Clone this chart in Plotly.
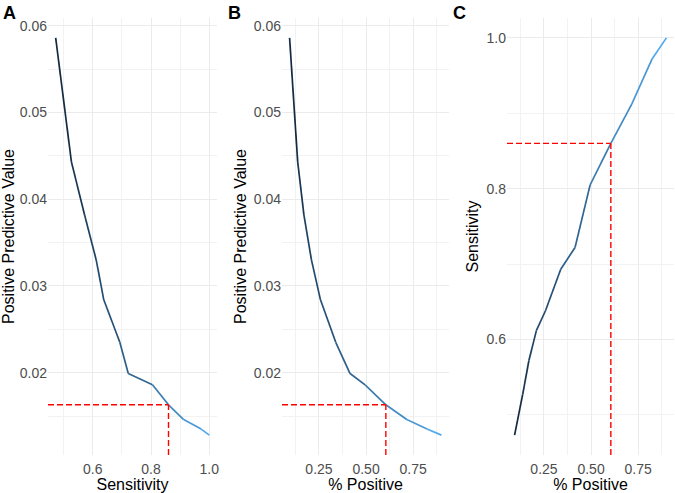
import plotly.graph_objects as go
import numpy as np

# ---- data ----
pct_positive = [0.094, 0.137, 0.170, 0.210, 0.258, 0.339, 0.415, 0.495, 0.605, 0.716, 0.824, 0.900]
sensitivity  = [0.473, 0.527, 0.572, 0.612, 0.638, 0.693, 0.722, 0.805, 0.860, 0.912, 0.972, 1.000]
ppv          = [0.0586, 0.0443, 0.0382, 0.0330, 0.0284, 0.0235, 0.0199, 0.0186, 0.0163, 0.0146, 0.0135, 0.0128]

cut_sens = 0.860
cut_pct = 0.605
cut_ppv = 0.0163

W, H = 675, 493

# ---- colour gradient (ggplot default, interpolated in Lab) ----
def srgb_to_lab(h):
    h = h.lstrip('#')
    rgb = np.array([int(h[i:i+2], 16) / 255 for i in (0, 2, 4)])
    lin = np.where(rgb <= 0.04045, rgb / 12.92, ((rgb + 0.055) / 1.055) ** 2.4)
    M = np.array([[0.4124, 0.3576, 0.1805], [0.2126, 0.7152, 0.0722], [0.0193, 0.1192, 0.9505]])
    xyz = M @ lin / np.array([0.95047, 1.0, 1.08883])
    f = np.where(xyz > 0.008856, np.cbrt(xyz), 7.787 * xyz + 16 / 116)
    return np.array([116 * f[1] - 16, 500 * (f[0] - f[1]), 200 * (f[1] - f[2])])

def lab_to_hex(lab):
    L, a, b = lab
    fy = (L + 16) / 116
    fx = fy + a / 500
    fz = fy - b / 200
    f = np.array([fx, fy, fz])
    xyz = np.where(f ** 3 > 0.008856, f ** 3, (f - 16 / 116) / 7.787) * np.array([0.95047, 1.0, 1.08883])
    Mi = np.array([[3.2406, -1.5372, -0.4986], [-0.9689, 1.8758, 0.0415], [0.0557, -0.2040, 1.0570]])
    lin = Mi @ xyz
    rgb = np.where(lin <= 0.0031308, 12.92 * lin, 1.055 * np.clip(lin, 0, None) ** (1 / 2.4) - 0.055)
    rgb = np.clip(rgb, 0, 1)
    return '#%02x%02x%02x' % tuple(int(round(v * 255)) for v in rgb)

lab_lo = srgb_to_lab('#132B43')
lab_hi = srgb_to_lab('#56B1F7')
smin, smax = min(sensitivity), max(sensitivity)

def col(v):
    t = (v - smin) / (smax - smin)
    return lab_to_hex(lab_lo + t * (lab_hi - lab_lo))

def rng(vals):
    lo, hi = min(vals), max(vals)
    pad = 0.05 * (hi - lo)
    return [lo - pad, hi + pad]

rx1, ry1 = rng(sensitivity), rng(ppv)
rx2, ry2 = rng(pct_positive), rng(ppv)
rx3, ry3 = rng(pct_positive), rng(sensitivity)
ranges = {'x': rx1, 'y': ry1, 'x2': rx2, 'y2': ry2, 'x3': rx3, 'y3': ry3}

fig = go.Figure()

panels = [
    (sensitivity, ppv, 'x', 'y'),
    (pct_positive, ppv, 'x2', 'y2'),
    (pct_positive, sensitivity, 'x3', 'y3'),
]

for xs, ys, xa, ya in panels:
    for i in range(len(xs) - 1):
        fig.add_trace(go.Scatter(
            x=[xs[i], xs[i + 1]], y=[ys[i], ys[i + 1]], mode='lines',
            line=dict(color=col(sensitivity[i]), width=1.7),
            xaxis=xa, yaxis=ya, showlegend=False, hoverinfo='skip'))

# red dashed cutoff lines: horizontal from left edge to point, vertical from bottom to point
red = dict(color='#FF0000', width=1.4, dash='6px,3px')
cuts = [('x', 'y', cut_sens, cut_ppv), ('x2', 'y2', cut_pct, cut_ppv), ('x3', 'y3', cut_pct, cut_sens)]
for xa, ya, cx, cy in cuts:
    fig.add_trace(go.Scatter(x=[ranges[xa][0], cx], y=[cy, cy], mode='lines', line=red,
                             xaxis=xa, yaxis=ya, showlegend=False, hoverinfo='skip'))
    fig.add_trace(go.Scatter(x=[cx, cx], y=[ranges[ya][0], cy], mode='lines', line=red,
                             xaxis=xa, yaxis=ya, showlegend=False, hoverinfo='skip'))

FAM = 'Liberation Sans, Arial, sans-serif'
font_tick = dict(family=FAM, size=14, color='#4D4D4D')
font_title = dict(family=FAM, size=16, color='#000000')
grid_major = '#EBEBEB'

ytop = 1 - 18 / H
ybot = 1 - 455 / H
doms = [[48 / W, 217 / W], [282 / W, 449 / W], [507 / W, 674 / W]]

def xaxis(dom, r, tv, tt, minor, title, anchor):
    return dict(domain=dom, range=r, tickvals=tv, ticktext=tt, showgrid=True, gridcolor=grid_major,
                gridwidth=1.1, zeroline=False, showline=False, ticks='', tickfont=font_tick,
                ticklabelstandoff=4,
                minor=dict(tickvals=minor, showgrid=True, gridcolor='#F2F2F2', gridwidth=0.8, ticks=''),
                title=dict(text=title, font=font_title, standoff=4), anchor=anchor, automargin=False)

def yaxis(r, tv, tt, minor, title, anchor):
    return dict(domain=[ybot, ytop], range=r, tickvals=tv, ticktext=tt, showgrid=True, gridcolor=grid_major,
                gridwidth=1.1, zeroline=False, showline=False, ticks='', tickfont=font_tick,
                minor=dict(tickvals=minor, showgrid=True, gridcolor='#F2F2F2', gridwidth=0.8, ticks=''),
                title=dict(text=title, font=font_title, standoff=3), anchor=anchor, automargin=False)

ppv_ticks = [0.02, 0.03, 0.04, 0.05, 0.06]
ppv_text = ['0.02', '0.03', '0.04', '0.05', '0.06']
ppv_minor = [0.015, 0.025, 0.035, 0.045, 0.055]
sens_ticks = [0.6, 0.8, 1.0]
sens_text = ['0.6', '0.8', '1.0']
sens_minor = [0.5, 0.7, 0.9]
pct_ticks = [0.25, 0.50, 0.75]
pct_text = ['0.25', '0.50', '0.75']
pct_minor = [0.125, 0.375, 0.625, 0.875]

fig.update_layout(
    width=W, height=H, margin=dict(l=0, r=0, t=0, b=0),
    paper_bgcolor='white', plot_bgcolor='white', showlegend=False,
    xaxis=xaxis(doms[0], rx1, sens_ticks, sens_text, sens_minor, 'Sensitivity', 'y'),
    yaxis=yaxis(ry1, ppv_ticks, ppv_text, ppv_minor, 'Positive Predictive Value', 'x'),
    xaxis2=xaxis(doms[1], rx2, pct_ticks, pct_text, pct_minor, '% Positive', 'y2'),
    yaxis2=yaxis(ry2, ppv_ticks, ppv_text, ppv_minor, 'Positive Predictive Value', 'x2'),
    xaxis3=xaxis(doms[2], rx3, pct_ticks, pct_text, pct_minor, '% Positive', 'y3'),
    yaxis3=yaxis(ry3, sens_ticks, sens_text, sens_minor, 'Sensitivity', 'x3'),
)

for lab, xp in [('A', 1), ('B', 226), ('C', 451)]:
    fig.add_annotation(text='<b>%s</b>' % lab, xref='paper', yref='paper', x=xp / W, y=1 - 1 / H,
                       xanchor='left', yanchor='top', showarrow=False,
                       font=dict(family=FAM, size=18, color='#000000'))

fig.write_html('out.html')
